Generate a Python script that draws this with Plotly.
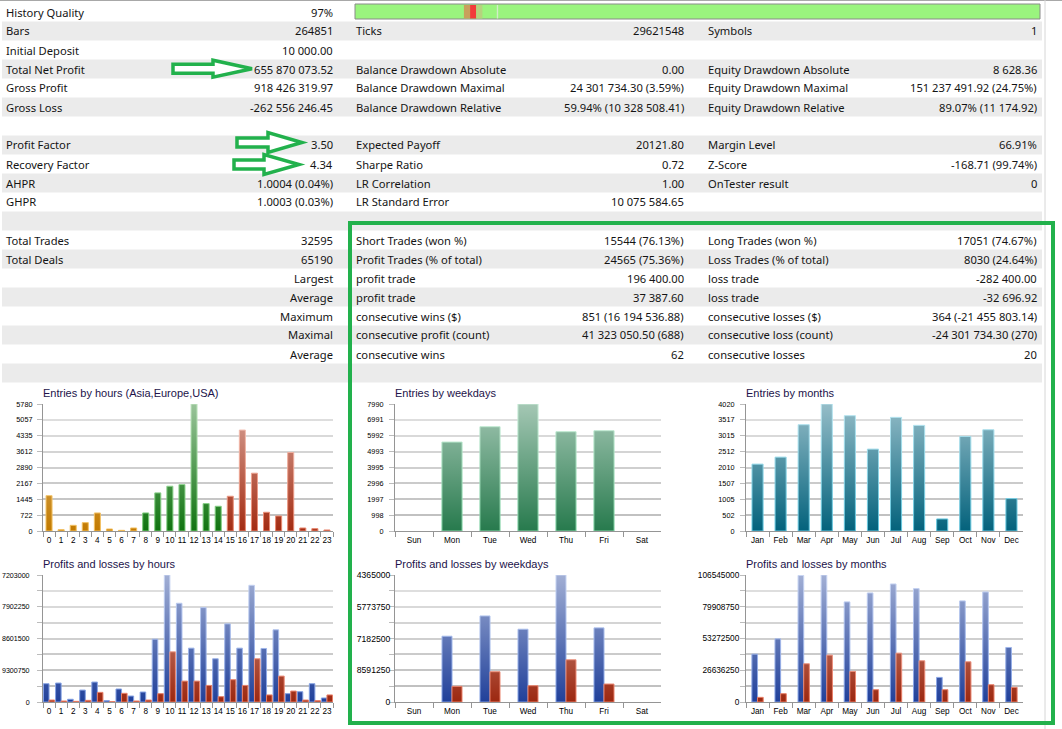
import base64

import plotly.graph_objects as go

W, H = 1062, 729

# ---------------- summary table: 20 rows, three label/value pairs ----------------
col1_labels = ["History Quality", "Bars", "Initial Deposit", "Total Net Profit", "Gross Profit", "Gross Loss", "",
               "Profit Factor", "Recovery Factor", "AHPR", "GHPR", "",
               "Total Trades", "Total Deals", "", "", "", "", "", ""]
col1_values = ["97%", "264851", "10 000.00", "655 870 073.52", "918 426 319.97", "-262 556 246.45", "",
               "3.50", "4.34", "1.0004 (0.04%)", "1.0003 (0.03%)", "",
               "32595", "65190", "Largest", "Average", "Maximum", "Maximal", "Average", ""]
col2_labels = ["", "Ticks", "", "Balance Drawdown Absolute", "Balance Drawdown Maximal", "Balance Drawdown Relative", "",
               "Expected Payoff", "Sharpe Ratio", "LR Correlation", "LR Standard Error", "",
               "Short Trades (won %)", "Profit Trades (% of total)", "profit trade", "profit trade",
               "consecutive wins ($)", "consecutive profit (count)", "consecutive wins", ""]
col2_values = ["", "29621548", "", "0.00", "24 301 734.30 (3.59%)", "59.94% (10 328 508.41)", "",
               "20121.80", "0.72", "1.00", "10 075 584.65", "",
               "15544 (76.13%)", "24565 (75.36%)", "196 400.00", "37 387.60",
               "851 (16 194 536.88)", "41 323 050.50 (688)", "62", ""]
col3_labels = ["", "Symbols", "", "Equity Drawdown Absolute", "Equity Drawdown Maximal", "Equity Drawdown Relative", "",
               "Margin Level", "Z-Score", "OnTester result", "", "",
               "Long Trades (won %)", "Loss Trades (% of total)", "loss trade", "loss trade",
               "consecutive losses ($)", "consecutive loss (count)", "consecutive losses", ""]
col3_values = ["", "1", "", "8 628.36", "151 237 491.92 (24.75%)", "89.07% (11 174.92)", "",
               "66.91%", "-168.71 (99.74%)", "0", "", "",
               "17051 (74.67%)", "8030 (24.64%)", "-282 400.00", "-32 696.92",
               "364 (-21 455 803.14)", "-24 301 734.30 (270)", "20", ""]

# history quality strip: (start, end) as share of the tested history, colour
quality_bands = [(0.159, 0.168, "#c9a05c"), (0.168, 0.177, "#f23a3a"),
                 (0.177, 0.186, "#b6d27e"), (0.207, 0.209, "#d2ecc8")]

# ---------------- charts ----------------
hours = [str(h) for h in range(24)]
hour_session = ["Asia"] * 8 + ["Europe"] * 7 + ["USA"] * 9
weekdays = ["Sun", "Mon", "Tue", "Wed", "Thu", "Fri", "Sat"]
months = ["Jan", "Feb", "Mar", "Apr", "May", "Jun", "Jul", "Aug", "Sep", "Oct", "Nov", "Dec"]

entries_by_hour = [1610, 60, 258, 380, 821, 91, 30, 137, 821, 1734, 2038, 2114,
                   5780, 1247, 1125, 1582, 4594, 2631, 852, 684, 3574, 137, 106, 46]
entries_by_weekday = [0, 5594, 6561, 7990, 6246, 6309, 0]
entries_by_month = [2116, 2338, 3364, 4020, 3650, 2592, 3597, 3343, 381, 2994, 3205, 1026]

profit_by_hour = [16900000, 17500000, 2500000, 11000000, 18400000, 1200000, 12000000, 5500000,
                  9200000, 58000000, 117203000, 91100000, 49700000, 87100000, 39900000, 72100000,
                  49700000, 107700000, 49400000, 66600000, 7700000, 9500000, 16900000, 3700000]
loss_by_hour = [1800000, 900000, 600000, 1500000, 8900000, 300000, 8000000, 900000,
                1800000, 7700000, 46300000, 19300000, 19300000, 15300000, 4900000, 20600000,
                15300000, 39900000, 6500000, 23900000, 10100000, 1800000, 1200000, 6500000]
profit_by_weekday = [0, 142100000, 185900000, 157200000, 274365000, 160100000, 0]
loss_by_weekday = [0, 33800000, 65400000, 35200000, 91200000, 38800000, 0]
profit_by_month = [40160000, 52990000, 106200000, 106545000, 83950000, 91480000,
                   99010000, 95110000, 20640000, 84790000, 92320000, 45740000]
loss_by_month = [3900000, 6970000, 32070000, 39330000, 25660000, 10320000,
                 41000000, 34590000, 10320000, 33750000, 14500000, 12270000]

# y tick labels as the terminal shows them (long ones are clipped on the left)
hour_entry_ticks = ["0", "722", "1445", "2167", "2890", "3612", "4335", "5057", "5780"]
weekday_entry_ticks = ["0", "998", "1997", "2996", "3995", "4993", "5992", "6991", "7990"]
month_entry_ticks = ["0", "502", "1005", "1507", "2010", "2512", "3015", "3517", "4020"]
hour_pl_ticks = ["0", "", "9300750", "", "8601500", "", "7902250", "", "7203000"]
weekday_pl_ticks = ["0", "", "8591250", "", "7182500", "", "5773750", "", "4365000"]
month_pl_ticks = ["0", "", "26636250", "", "53272500", "", "79908750", "", "106545000"]

ROW_TOP, ROW_H = 2.5, 19
GRID = "#bcbcbc"
AXIS = "#959595"
GREEN = "#22b14c"
TEXT_FONT = "Noto Sans"
CHART_FONT = "Liberation Sans"

session_fill = {"Asia": "#c27a00", "Europe": "#0f730f", "USA": "#a32c12"}
session_edge = {"Asia": "#f2be5c", "Europe": "#74c874", "USA": "#e8856c"}


def fx(px):
    return px / W


def fy(py):
    return 1 - py / H


def gradient_source():
    # white sheen over the plot area: MT5 bars get lighter towards the top
    svg = ("<svg xmlns='http://www.w3.org/2000/svg' width='10' height='100' viewBox='0 0 10 100' "
           "preserveAspectRatio='none'><defs><linearGradient id='g' x1='0' y1='0' x2='0' y2='1'>"
           "<stop offset='0' stop-color='#ffffff' stop-opacity='0.58'/>"
           "<stop offset='1' stop-color='#ffffff' stop-opacity='0'/>"
           "</linearGradient></defs><rect width='10' height='100' fill='url(#g)'/></svg>")
    return "data:image/svg+xml;base64," + base64.b64encode(svg.encode("utf-8")).decode("ascii")


shapes = []
annotations = []
images = []


def rect(x0, y0, x1, y1, fill, line=None, width=0, layer="below"):
    shapes.append(dict(type="rect", xref="paper", yref="paper",
                       x0=fx(x0), x1=fx(x1), y0=fy(y1), y1=fy(y0),
                       fillcolor=fill, line=dict(color=line or fill, width=width), layer=layer))


def cell(text, x, row, anchor):
    if not text:
        return
    annotations.append(dict(text=text, x=fx(x), y=fy(12 + row * ROW_H), xref="paper", yref="paper",
                            xanchor=anchor, yanchor="middle", showarrow=False,
                            font=dict(family=TEXT_FONT, size=11.2, color="#141414")))


# table stripes and frame lines
for i in range(len(col1_labels)):
    if i % 2 == 1:
        top = ROW_TOP + i * ROW_H
        rect(2, top, 1042, top + ROW_H, "#ebebeb")
shapes.append(dict(type="line", xref="paper", yref="paper", x0=0, x1=1, y0=fy(0.5), y1=fy(0.5),
                   line=dict(color="#a8a8a8", width=1)))
shapes.append(dict(type="line", xref="paper", yref="paper", x0=fx(1045), x1=fx(1045), y0=0, y1=1,
                   line=dict(color="#d6d6d6", width=1)))

for i in range(len(col1_labels)):
    cell(col1_labels[i], 4, i, "left")
    cell(col1_values[i], 335, i, "right")
    cell(col2_labels[i], 354, i, "left")
    cell(col2_values[i], 686, i, "right")
    cell(col3_labels[i], 706, i, "left")
    cell(col3_values[i], 1039, i, "right")

# history quality strip
qx0, qx1 = 355, 1040
rect(qx0, 4, qx1, 19, "#9af47e", "#8a8a8a", 1)
for a, b, c in quality_bands:
    rect(qx0 + a * (qx1 - qx0), 5, qx0 + b * (qx1 - qx0), 18.5, c)

# ---------------- bar panels ----------------
panels = [
    dict(box=(43, 404, 333, 531), title="Entries by hours (Asia,Europe,USA)", cats=hours,
         ticks=hour_entry_ticks, tsize=7.3, stand=3,
         series=[(entries_by_hour, [session_fill[s] for s in hour_session],
                  [session_edge[s] for s in hour_session], -0.25, 0.5)]),
    dict(box=(395, 404, 661, 531), title="Entries by weekdays", cats=weekdays,
         ticks=weekday_entry_ticks, tsize=7.3, stand=4,
         series=[(entries_by_weekday, "#277a4d", "#86d6a8", -0.265, 0.53)]),
    dict(box=(746, 404, 1023, 531), title="Entries by months", cats=months,
         ticks=month_entry_ticks, tsize=7.3, stand=4,
         series=[(entries_by_month, "#03627c", "#62c6de", -0.24, 0.48)]),
    dict(box=(43, 575, 333, 702), title="Profits and losses by hours", cats=hours,
         ticks=hour_pl_ticks, tsize=7.1, stand=6,
         series=[(profit_by_hour, "#20409a", "#7f9de2", -0.46, 0.46),
                 (loss_by_hour, "#9c2810", "#e87a62", 0.0, 0.46)]),
    dict(box=(395, 575, 661, 702), title="Profits and losses by weekdays", cats=weekdays,
         ticks=weekday_pl_ticks, tsize=8.6, stand=-3,
         series=[(profit_by_weekday, "#20409a", "#7f9de2", -0.263, 0.263),
                 (loss_by_weekday, "#9c2810", "#e87a62", 0.0, 0.263)]),
    dict(box=(746, 575, 1023, 702), title="Profits and losses by months", cats=months,
         ticks=month_pl_ticks, tsize=8.3, stand=-1,
         series=[(profit_by_month, "#20409a", "#7f9de2", -0.245, 0.245),
                 (loss_by_month, "#9c2810", "#e87a62", 0.0, 0.245)]),
]

fig = go.Figure()
layout_axes = {}
sheen = gradient_source()

for n, p in enumerate(panels, start=1):
    x0, y0, x1, y1 = p["box"]
    xa, ya = ("x", "y") if n == 1 else (f"x{n}", f"y{n}")
    top = max(max(s[0]) for s in p["series"])

    for values, fill, edge, off, wid in p["series"]:
        fig.add_trace(go.Bar(x=p["cats"], y=values, xaxis=xa, yaxis=ya, offset=off, width=wid,
                             marker=dict(color=fill,
                                         line=dict(color=edge, width=[1 if v > 0 else 0 for v in values])),
                             hoverinfo="skip", showlegend=False))

    layout_axes["xaxis" if n == 1 else f"xaxis{n}"] = dict(
        domain=[fx(x0), fx(x1)], anchor=ya, type="category", automargin=False,
        categoryorder="array", categoryarray=p["cats"], range=[-0.5, len(p["cats"]) - 0.5],
        showgrid=False, showline=True, linecolor=AXIS, linewidth=1,
        ticks="outside", tickson="boundaries", ticklen=5, tickcolor=AXIS, tickangle=0,
        ticklabelstandoff=1,
        tickfont=dict(family=CHART_FONT, size=8.2, color="#000000"), fixedrange=True)
    layout_axes["yaxis" if n == 1 else f"yaxis{n}"] = dict(
        domain=[fy(y1), fy(y0)], anchor=xa, range=[0, top], automargin=False,
        tickvals=[top * k / 8 for k in range(9)], ticktext=p["ticks"],
        showgrid=True, gridcolor=GRID, gridwidth=2, zeroline=False,
        showline=True, linecolor=AXIS, linewidth=1,
        ticks="outside", ticklen=5, tickcolor=GRID, ticklabelstandoff=p["stand"],
        tickfont=dict(family=CHART_FONT, size=p["tsize"], color="#000000"), fixedrange=True)

    annotations.append(dict(text=p["title"], x=fx(x0 - 2), y=fy(y0 - 11), xref="paper", yref="paper",
                            xanchor="left", yanchor="middle", showarrow=False,
                            font=dict(family=CHART_FONT, size=11, color="#22134a")))
    images.append(dict(source=sheen, xref="paper", yref="paper", x=fx(x0), y=fy(y0),
                       sizex=fx(x1) - fx(x0), sizey=fy(y0) - fy(y1), xanchor="left", yanchor="top",
                       sizing="stretch", layer="above", opacity=1))

# ---------------- hand-drawn highlights ----------------
arrows = [(173, 252, 213, 68.7, 4.5, 8.5), (237, 302, 268, 142.5, 4.5, 10), (234, 299, 264, 164.5, 4.5, 10)]
for tail, tip, head, yc, sh, hh in arrows:
    pts = [(tail, yc - sh), (head, yc - sh), (head, yc - hh), (tip, yc),
           (head, yc + hh), (head, yc + sh), (tail, yc + sh)]
    path = "M " + " L ".join(f"{fx(a):.5f},{fy(b):.5f}" for a, b in pts) + " Z"
    shapes.append(dict(type="path", xref="paper", yref="paper", path=path,
                       fillcolor="#ffffff", line=dict(color=GREEN, width=3.5), layer="above"))

shapes.append(dict(type="rect", xref="paper", yref="paper", x0=fx(350), x1=fx(1053), y0=fy(723), y1=fy(223),
                   line=dict(color=GREEN, width=4), fillcolor="rgba(0,0,0,0)", layer="above"))

fig.update_layout(
    width=W, height=H, margin=dict(l=0, r=0, t=0, b=0, pad=0, autoexpand=False),
    paper_bgcolor="#ffffff", plot_bgcolor="#ffffff",
    barmode="overlay", hovermode=False, showlegend=False,
    font=dict(family=CHART_FONT, color="#000000"),
    shapes=shapes, annotations=annotations, images=images,
    **layout_axes,
)

# pin the plot to the top-left corner so the page is exactly the figure
pin = ("var d=document.getElementById('{plot_id}');"
       "d.style.position='fixed';d.style.left='0';d.style.top='0';"
       "document.documentElement.style.overflow='hidden';"
       "document.body.style.margin='0';document.body.style.overflow='hidden';"
       "document.body.style.height='729px';")
fig.write_html("out.html", config={"displayModeBar": False}, post_script=pin)
